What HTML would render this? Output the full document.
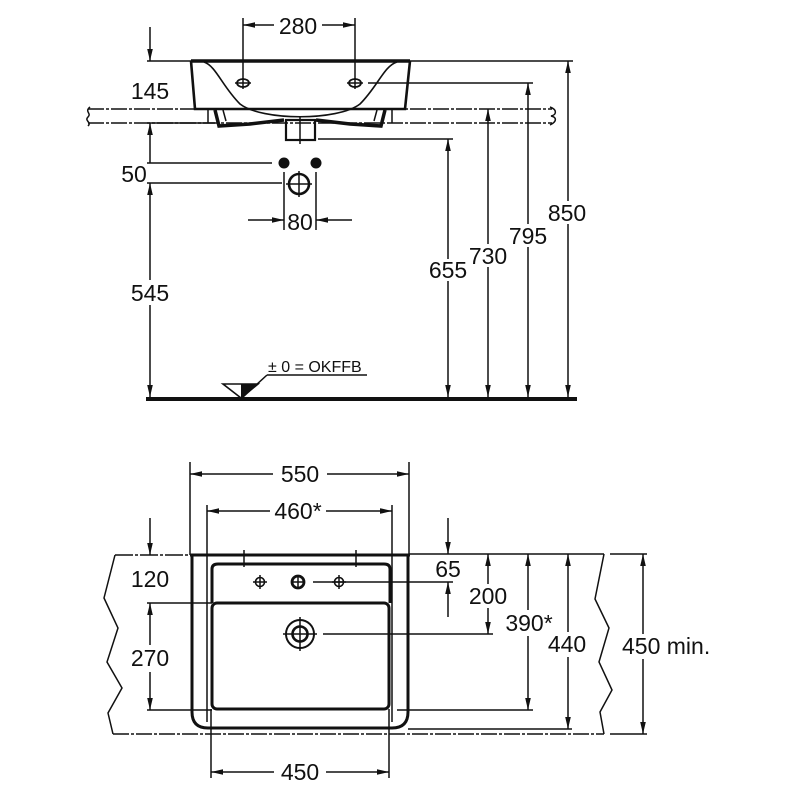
<!DOCTYPE html>
<html><head><meta charset="utf-8"><style>
html,body{margin:0;padding:0;background:#fff;}
svg{display:block;}
text{font-family:"Liberation Sans",sans-serif;font-size:23px;fill:#111;}
</style></head><body>
<svg width="800" height="800" viewBox="0 0 800 800" xmlns="http://www.w3.org/2000/svg">
<rect width="800" height="800" fill="#fff"/>
<g stroke="#111" stroke-width="1.5" fill="none">
<!-- ===== TOP VIEW ===== -->
<line x1="243" y1="18" x2="243" y2="80"/><line x1="355" y1="18" x2="355" y2="80"/>
<line x1="243" y1="25" x2="274" y2="25"/><line x1="322" y1="25" x2="355" y2="25"/>
<line x1="147" y1="61" x2="573" y2="61"/>
<line x1="368" y1="83" x2="533" y2="83"/>
<line x1="318" y1="139" x2="453" y2="139"/>
<line x1="147" y1="123" x2="215" y2="123"/>
<line x1="88" y1="109" x2="552" y2="109" stroke-dasharray="16 2 3 2"/>
<line x1="88" y1="123" x2="552" y2="123" stroke-dasharray="16 2 3 2"/>
<path d="M90,107 C84,112 92,113 88,117 C84,121 92,122 88,126"/>
<path d="M550,107 C558,110 556,115 551,116 C556,117 558,121 550,125"/>
<line x1="150" y1="27" x2="150" y2="61"/>
<line x1="150" y1="123" x2="150" y2="163"/>
<line x1="147" y1="163" x2="272" y2="163"/>
<line x1="147" y1="183" x2="282" y2="183"/>
<line x1="150" y1="183" x2="150" y2="280"/><line x1="150" y1="305" x2="150" y2="398"/>
<line x1="284" y1="172" x2="284" y2="230"/><line x1="316" y1="172" x2="316" y2="230"/>
<line x1="248" y1="220" x2="284" y2="220"/><line x1="316" y1="220" x2="352" y2="220"/>
<line x1="448" y1="139" x2="448" y2="259"/><line x1="448" y1="281" x2="448" y2="398"/>
<line x1="488" y1="109" x2="488" y2="244"/><line x1="488" y1="267" x2="488" y2="398"/>
<line x1="528" y1="83" x2="528" y2="224"/><line x1="528" y1="247" x2="528" y2="398"/>
<line x1="568" y1="61" x2="568" y2="201"/><line x1="568" y1="224" x2="568" y2="398"/>
<path d="M191,61 L410,61" stroke-width="3.5"/>
<path d="M191,61 L195,109 L405,109 L410,61" stroke-width="2.6"/>
<path d="M204,62 C216,66 222,86 240,104 C262,121 338,121 360,104 C378,86 384,66 397,62" stroke-width="1.6"/>
<ellipse cx="243" cy="83" rx="6" ry="4" stroke-width="1.8"/>
<ellipse cx="355" cy="83" rx="6" ry="4" stroke-width="1.8"/>
<line x1="235" y1="83" x2="251" y2="83"/><line x1="347" y1="83" x2="363" y2="83"/>
<line x1="243" y1="78" x2="243" y2="89"/><line x1="355" y1="78" x2="355" y2="89"/>
<line x1="208" y1="109" x2="208" y2="123"/><line x1="392" y1="109" x2="392" y2="123"/>
<path d="M215,110 L219,126 L250,124 L284,120" stroke-width="3.5"/>
<path d="M223,110 L226,121" stroke-width="1.5"/>
<path d="M385,110 L381,126 L350,124 L316,120" stroke-width="3.5"/>
<path d="M377,110 L374,121" stroke-width="1.5"/>
<rect x="286" y="120" width="29" height="20" stroke-width="2.2"/>
<line x1="300" y1="116" x2="300" y2="144"/>
<circle cx="299" cy="184" r="10" stroke-width="2.6"/>
<line x1="286" y1="184" x2="312" y2="184"/><line x1="299" y1="171" x2="299" y2="197"/>
<line x1="146" y1="399" x2="577" y2="399" stroke-width="4"/>
<line x1="267" y1="375" x2="367" y2="375"/>
<line x1="267" y1="375" x2="243" y2="397" stroke-width="1.5"/>
<polygon points="223,384 258,384 241,398" fill="#fff" stroke-width="1.6"/>

<!-- ===== BOTTOM VIEW ===== -->
<line x1="190" y1="462" x2="190" y2="555"/><line x1="409" y1="462" x2="409" y2="555"/>
<line x1="190" y1="474" x2="273" y2="474"/><line x1="327" y1="474" x2="409" y2="474"/>
<line x1="207" y1="505" x2="207" y2="722"/><line x1="392" y1="505" x2="392" y2="722"/>
<line x1="207" y1="511" x2="270" y2="511"/><line x1="326" y1="511" x2="392" y2="511"/>
<line x1="115" y1="555" x2="190" y2="555" stroke-dasharray="18 2 3 2"/>
<line x1="409" y1="554" x2="604" y2="554"/>
<line x1="610" y1="554" x2="647" y2="554"/>
<path d="M115,555 L104,598 L118,628 L107,662 L122,688 L108,713 L113,734"/>
<path d="M604,554 L595,599 L609,628 L599,662 L612,690 L600,712 L604,734"/>
<line x1="113" y1="734" x2="604" y2="734" stroke-dasharray="16 2 3 2"/>
<line x1="610" y1="734" x2="647" y2="734"/>
<line x1="190" y1="555" x2="410" y2="555" stroke-width="3"/>
<path d="M192,555 L192,712 Q192,728 208,728 L392,728 Q408,728 408,712 L408,555" stroke-width="3"/>
<path d="M212,603 L212,569 Q212,564 218,564 L384,564 Q390,564 390,569 L390,603" stroke-width="3"/>
<rect x="212" y="603" width="177" height="106" rx="5" stroke-width="3"/>
<line x1="244" y1="550" x2="244" y2="567"/><line x1="356" y1="550" x2="356" y2="567"/>
<circle cx="260" cy="582" r="4.5" stroke-width="1.6"/>
<line x1="253" y1="582" x2="267" y2="582"/><line x1="260" y1="575" x2="260" y2="589"/>
<circle cx="298" cy="582" r="6" stroke-width="2.8"/>
<line x1="292" y1="582" x2="304" y2="582"/><line x1="298" y1="576" x2="298" y2="588"/>
<circle cx="339" cy="582" r="4.5" stroke-width="1.6"/>
<line x1="332" y1="582" x2="346" y2="582"/><line x1="339" y1="575" x2="339" y2="589"/>
<line x1="313" y1="582" x2="453" y2="582"/>
<circle cx="300" cy="634" r="14" stroke-width="2"/>
<circle cx="300" cy="634" r="7.5" stroke-width="2.6"/>
<line x1="283" y1="634" x2="317" y2="634"/><line x1="300" y1="617" x2="300" y2="651"/>
<line x1="323" y1="634" x2="493" y2="634"/>
<line x1="150" y1="518" x2="150" y2="555"/>
<line x1="147" y1="603" x2="212" y2="603"/>
<line x1="150" y1="603" x2="150" y2="645"/><line x1="150" y1="672" x2="150" y2="710"/>
<line x1="147" y1="710" x2="212" y2="710"/>
<line x1="211" y1="709" x2="211" y2="778"/><line x1="389" y1="709" x2="389" y2="778"/>
<line x1="211" y1="772" x2="274" y2="772"/><line x1="326" y1="772" x2="389" y2="772"/>
<line x1="397" y1="710" x2="533" y2="710"/>
<line x1="408" y1="729" x2="572" y2="729"/>
<line x1="448" y1="518" x2="448" y2="554"/>
<line x1="448" y1="582" x2="448" y2="617"/>
<line x1="488" y1="554" x2="488" y2="584"/><line x1="488" y1="608" x2="488" y2="634"/>
<line x1="528" y1="554" x2="528" y2="610"/><line x1="528" y1="636" x2="528" y2="710"/>
<line x1="568" y1="554" x2="568" y2="632"/><line x1="568" y1="657" x2="568" y2="729"/>
<line x1="643" y1="554" x2="643" y2="634"/><line x1="643" y1="659" x2="643" y2="734"/>
</g>

<g fill="#111" stroke="none">
<polygon points="255,22.2 255,27.8 243,25"/><polygon points="343,22.2 343,27.8 355,25"/>
<polygon points="147.2,49 152.8,49 150,61"/>
<polygon points="147.2,135 152.8,135 150,123"/>
<polygon points="147.2,195 152.8,195 150,183"/><polygon points="147.2,385 152.8,385 150,397"/>
<polygon points="272,217.2 272,222.8 284,220"/><polygon points="328,217.2 328,222.8 316,220"/>
<polygon points="445.2,151 450.8,151 448,139"/><polygon points="445.2,385 450.8,385 448,397"/>
<polygon points="485.2,121 490.8,121 488,109"/><polygon points="485.2,385 490.8,385 488,397"/>
<polygon points="525.2,95 530.8,95 528,83"/><polygon points="525.2,385 530.8,385 528,397"/>
<polygon points="565.2,73 570.8,73 568,61"/><polygon points="565.2,385 570.8,385 568,397"/>
<circle cx="284" cy="163" r="5.5"/><circle cx="316" cy="163" r="5.5"/>
<polygon points="241,384 258,384 241,398"/>
<polygon points="202,471.2 202,476.8 190,474"/><polygon points="397,471.2 397,476.8 409,474"/>
<polygon points="219,508.2 219,513.8 207,511"/><polygon points="380,508.2 380,513.8 392,511"/>
<polygon points="147.2,543 152.8,543 150,555"/>
<polygon points="147.2,615 152.8,615 150,603"/><polygon points="147.2,698 152.8,698 150,710"/>
<polygon points="223,769.2 223,774.8 211,772"/><polygon points="377,769.2 377,774.8 389,772"/>
<polygon points="445.2,542 450.8,542 448,554"/><polygon points="445.2,594 450.8,594 448,582"/>
<polygon points="485.2,566 490.8,566 488,554"/><polygon points="485.2,622 490.8,622 488,634"/>
<polygon points="525.2,566 530.8,566 528,554"/><polygon points="525.2,698 530.8,698 528,710"/>
<polygon points="565.2,566 570.8,566 568,554"/><polygon points="565.2,717 570.8,717 568,729"/>
<polygon points="640.2,566 645.8,566 643,554"/><polygon points="640.2,722 645.8,722 643,734"/>
</g>

<g text-anchor="middle">
<text x="298" y="34">280</text>
<text x="150" y="99">145</text>
<text x="134" y="182">50</text>
<text x="300" y="230">80</text>
<text x="150" y="301">545</text>
<text x="448" y="278">655</text>
<text x="488" y="264">730</text>
<text x="528" y="244">795</text>
<text x="567" y="221">850</text>
<text x="300" y="482">550</text>
<text x="298" y="519">460*</text>
<text x="150" y="587">120</text>
<text x="150" y="666">270</text>
<text x="300" y="780">450</text>
<text x="448" y="577">65</text>
<text x="488" y="604">200</text>
<text x="529" y="631">390*</text>
<text x="567" y="652">440</text>
</g>
<text x="622" y="654">450 min.</text>
<text x="268" y="372" style="font-size:16px">± 0 = OKFFB</text>
</svg>
</body></html>
